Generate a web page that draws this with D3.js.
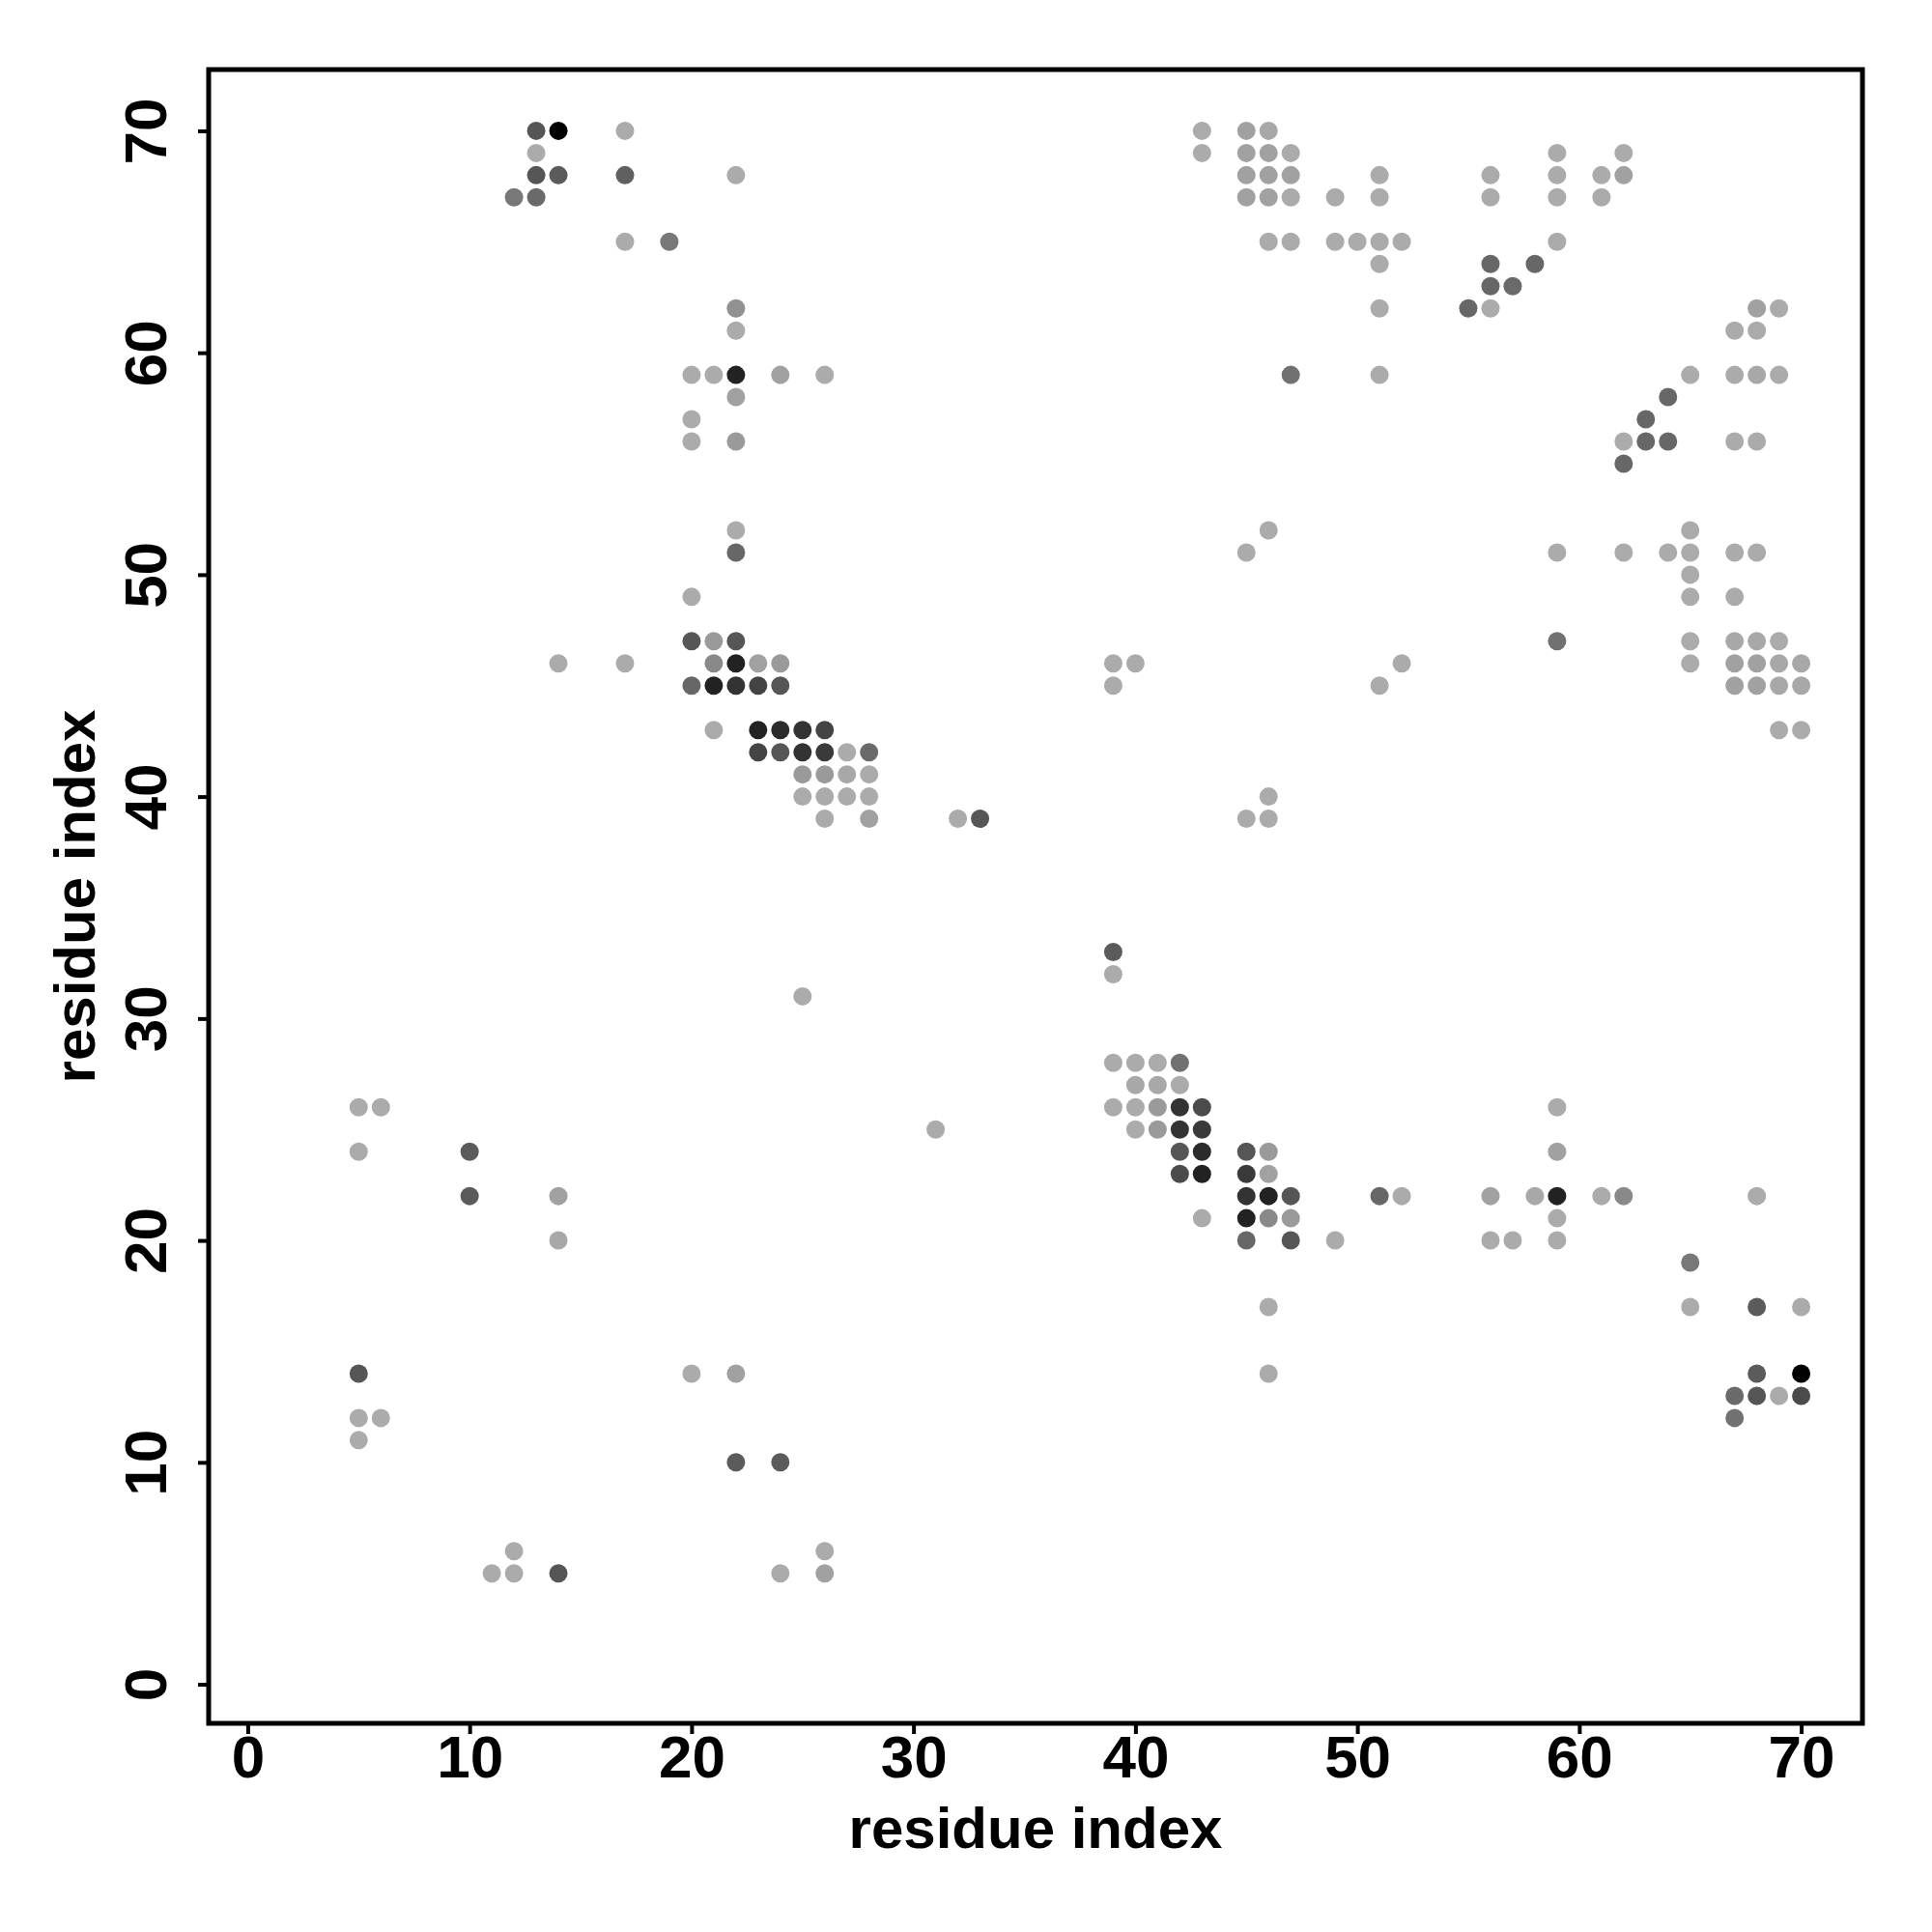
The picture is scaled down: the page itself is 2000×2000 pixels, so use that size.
<!DOCTYPE html>
<html>
<head>
<meta charset="utf-8">
<script src="https://cdn.jsdelivr.net/npm/d3@7"></script>
<style>
  body { margin: 0; background: #fff; }
  text { font-family: "Liberation Sans", Arial, Helvetica, sans-serif; font-weight: bold; fill: #000; }
</style>
</head>
<body>
<div id="chart"></div>
<script>
// contact map: one entry per row (y residue), listing x residues and contact score (0 = weak, 1 = strong)
const rowY = [70, 69, 68, 67, 65, 64, 63, 62, 61, 59, 58, 57, 56, 55, 52, 51, 50, 49, 47, 46, 45, 43, 42, 41, 40, 39,
              33, 32, 31, 28, 27, 26, 25, 24, 23, 22, 21, 20, 19, 17, 14, 13, 12, 11, 10, 6, 5];
const rowX = [
  [13, 14, 17, 43, 45, 46],
  [13, 43, 45, 46, 47, 59, 62],
  [13, 14, 17, 22, 45, 46, 47, 51, 56, 59, 61, 62],
  [12, 13, 45, 46, 47, 49, 51, 56, 59, 61],
  [17, 19, 46, 47, 49, 50, 51, 52, 59],
  [51, 56, 58],
  [56, 57],
  [22, 51, 55, 56, 68, 69],
  [22, 67, 68],
  [20, 21, 22, 24, 26, 47, 51, 65, 67, 68, 69],
  [22, 64],
  [20, 63],
  [20, 22, 62, 63, 64, 67, 68],
  [62],
  [22, 46, 65],
  [22, 45, 59, 62, 64, 65, 67, 68],
  [65],
  [20, 65, 67],
  [20, 21, 22, 59, 65, 67, 68, 69],
  [14, 17, 21, 22, 23, 24, 39, 40, 52, 65, 67, 68, 69, 70],
  [20, 21, 22, 23, 24, 39, 51, 67, 68, 69, 70],
  [21, 23, 24, 25, 26, 69, 70],
  [23, 24, 25, 26, 27, 28],
  [25, 26, 27, 28],
  [25, 26, 27, 28, 46],
  [26, 28, 32, 33, 45, 46],
  [39],
  [39],
  [25],
  [39, 40, 41, 42],
  [40, 41, 42],
  [5, 6, 39, 40, 41, 42, 43, 59],
  [31, 40, 41, 42, 43],
  [5, 10, 42, 43, 45, 46, 59],
  [42, 43, 45, 46],
  [10, 14, 45, 46, 47, 51, 52, 56, 58, 59, 61, 62, 68],
  [43, 45, 46, 47, 59],
  [14, 45, 47, 49, 56, 57, 59],
  [65],
  [46, 65, 68, 70],
  [5, 20, 22, 46, 68, 70],
  [67, 68, 69, 70],
  [5, 6, 67],
  [5],
  [22, 24],
  [12, 26],
  [11, 12, 14, 24, 26]
];
const rowScore = [
  [.5, 1, 0, 0, .06, .02],
  [0, 0, .06, .06, 0, 0, 0],
  [.5, .47, .44, 0, .06, .06, .06, 0, 0, 0, 0, .06],
  [.3, .38, .06, .06, 0, 0, 0, 0, 0, 0],
  [0, .3, 0, 0, 0, 0, 0, 0, 0],
  [0, .4, .4],
  [.4, .38],
  [.15, 0, .4, 0, .06, 0],
  [0, 0, 0],
  [0, 0, .8, .06, 0, .34, 0, 0, 0, .02, 0],
  [.06, .4],
  [0, .4],
  [0, .1, 0, .4, .4, 0, 0],
  [.4],
  [0, 0, 0],
  [.4, 0, 0, 0, 0, 0, 0, 0],
  [0],
  [0, 0, 0],
  [.5, .1, .5, .34, 0, .02, .02, 0],
  [0, 0, .2, .8, .06, .1, 0, 0, 0, 0, .06, .06, .02, .02],
  [.4, .8, .7, .6, .5, 0, 0, .06, .06, .02, .02],
  [0, .8, .75, .7, .6, 0, 0],
  [.6, .5, .7, .66, 0, .38],
  [.1, .1, .02, 0],
  [0, 0, 0, 0, 0],
  [0, .06, 0, .5, 0, 0],
  [.47],
  [0],
  [0],
  [0, 0, 0, .34],
  [.02, .02, 0],
  [0, 0, 0, 0, .1, .7, .56, 0],
  [0, 0, .1, .7, .66],
  [0, .47, .5, .75, .5, .1, .06],
  [.56, .8, .66, .06],
  [.47, .06, .7, .8, .5, .4, 0, .06, .02, .8, 0, .2, 0],
  [0, .8, .2, .1, 0],
  [.02, .4, .5, 0, 0, 0, 0],
  [.3],
  [0, 0, .47, 0],
  [.5, 0, .06, 0, .47, 1],
  [.38, .5, 0, .56],
  [0, 0, .34],
  [0],
  [.47, .47],
  [0, 0],
  [0, 0, .5, 0, .06]
];
const tickVals = [0, 10, 20, 30, 40, 50, 60, 70];
const axisTitle = "residue index";

const contacts = [];
rowY.forEach((yv, r) => {
  rowX[r].forEach((xv, k) => contacts.push({x: xv, y: yv, s: rowScore[r][k]}));
});

const W = 2000, H = 2000;
const frame = {left: 216, right: 1928, top: 72, bottom: 1784};
const lim = [-1.76, 72.76];

const x = d3.scaleLinear().domain(lim).range([frame.left, frame.right]);
const y = d3.scaleLinear().domain(lim).range([frame.bottom, frame.top]);
const shade = d3.scaleLinear().domain([0, 1]).range(["#ababab", "#000000"]);

const svg = d3.select("#chart").append("svg")
  .attr("width", W)
  .attr("height", H);

svg.append("rect").attr("width", W).attr("height", H).attr("fill", "#fff");

svg.append("g")
  .selectAll("circle")
  .data(contacts)
  .enter()
  .append("circle")
    .attr("cx", d => x(d.x))
    .attr("cy", d => y(d.y))
    .attr("r", 9.5)
    .attr("fill", d => shade(d.s));

// x axis
const gx = svg.append("g")
  .attr("transform", "translate(0," + frame.bottom + ")")
  .call(d3.axisBottom(x).tickValues(tickVals).tickSize(11).tickSizeOuter(0));
gx.select(".domain").remove();
gx.selectAll(".tick line").attr("stroke", "#000").attr("stroke-width", 4);
gx.selectAll(".tick text")
  .attr("y", 56).attr("dy", null)
  .style("font-size", "62px");

// y axis
const gy = svg.append("g")
  .attr("transform", "translate(" + frame.left + ",0)")
  .call(d3.axisLeft(y).tickValues(tickVals).tickSize(11).tickSizeOuter(0));
gy.select(".domain").remove();
gy.selectAll(".tick line").attr("stroke", "#000").attr("stroke-width", 4);
gy.selectAll(".tick text")
  .attr("x", null).attr("dy", null)
  .attr("text-anchor", "middle")
  .attr("transform", "translate(-44,0) rotate(-90)")
  .style("font-size", "62px");

gx.attr("font-family", null).attr("font-size", null);
gy.attr("font-family", null).attr("font-size", null);

// frame
svg.append("rect")
  .attr("x", frame.left).attr("y", frame.top)
  .attr("width", frame.right - frame.left)
  .attr("height", frame.bottom - frame.top)
  .attr("fill", "none")
  .attr("stroke", "#000")
  .attr("stroke-width", 5);

svg.append("text")
  .attr("x", (frame.left + frame.right) / 2)
  .attr("y", 1913)
  .attr("text-anchor", "middle")
  .style("font-size", "60px")
  .text(axisTitle);

svg.append("text")
  .attr("transform", "translate(98," + (frame.top + frame.bottom) / 2 + ") rotate(-90)")
  .attr("text-anchor", "middle")
  .style("font-size", "60px")
  .text(axisTitle);
</script>
</body>
</html>
